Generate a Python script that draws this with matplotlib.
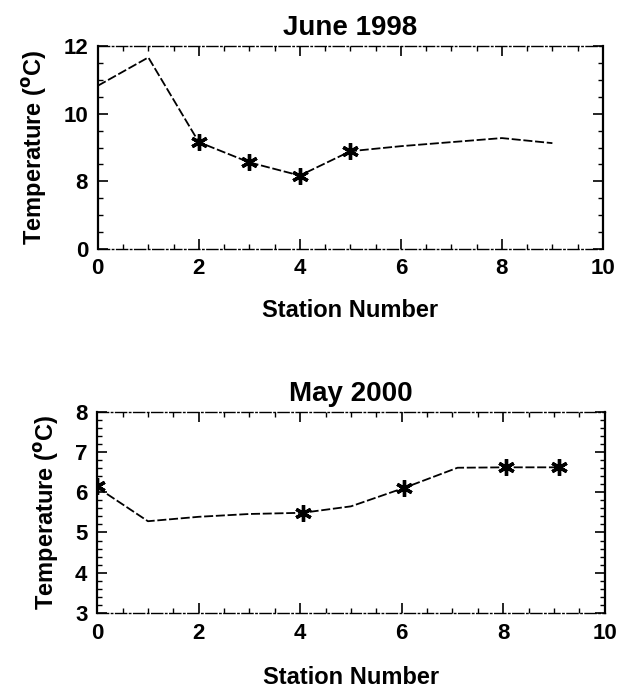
import matplotlib.pyplot as plt
from matplotlib.ticker import MultipleLocator

# June 1998 (y axis scale 6-12, bottom tick printed as "0")
st_jun = [0, 1, 2, 3, 4, 5, 6, 7, 8, 9]
temp_jun = [10.83, 11.67, 9.16, 8.56, 8.17, 8.89, 9.04, 9.16, 9.28, 9.13]
mark_x_jun = [2, 3, 4, 5]
mark_y_jun = [9.16, 8.56, 8.17, 8.89]
yticks_jun = [6, 8, 10, 12]
ylabels_jun = ['0', '8', '10', '12']

# May 2000
st_may = [0, 1, 2, 3, 4.05, 5, 6.05, 7.1, 8.05, 9.1]
temp_may = [6.12, 5.28, 5.39, 5.46, 5.49, 5.65, 6.11, 6.61, 6.62, 6.62]
mark_x_may = [0, 4.05, 6.05, 8.05, 9.1]
mark_y_may = [6.15, 5.49, 6.11, 6.62, 6.62]
yticks_may = [3, 4, 5, 6, 7, 8]

xticks = [0, 2, 4, 6, 8, 10]

plt.rcParams['font.family'] = ['Liberation Sans', 'DejaVu Sans']
plt.rcParams['font.weight'] = 'bold'
plt.rcParams['mathtext.default'] = 'bf'

fig = plt.figure(figsize=(6.19, 6.91), dpi=100)
ax1 = fig.add_axes([0.158, 0.640, 0.816, 0.293])
ax2 = fig.add_axes([0.157, 0.113, 0.820, 0.291])

ls = (0, (5, 1.5))


def style(ax, ymin, ymax, yminor, xpad):
    ax.set_xlim(0, 10)
    ax.set_ylim(ymin, ymax)
    ax.set_xticks(xticks)
    ax.xaxis.set_minor_locator(MultipleLocator(0.5))
    ax.yaxis.set_minor_locator(MultipleLocator(yminor))
    ax.tick_params(which='both', direction='in', top=True, right=True,
                   labelsize=16, pad=7)
    ax.tick_params(which='major', length=7, width=1.2)
    ax.tick_params(which='minor', length=3.5, width=1.0)
    for side in ['left', 'right']:
        ax.spines[side].set_linewidth(1.6)
    for side in ['top', 'bottom']:
        ax.spines[side].set_linewidth(1.0)
        ax.spines[side].set_linestyle((0, (8, 2, 1, 2)))
    ax.set_xlabel('Station Number', fontsize=17, fontweight='bold', labelpad=xpad)
    ax.set_ylabel('Temperature ($^{o}$C)', fontsize=17, fontweight='bold', labelpad=10)


ax1.plot(st_jun, temp_jun, color='black', lw=1.3, linestyle=ls)
ax1.plot(mark_x_jun, mark_y_jun, linestyle='none', marker=(6, 2, 0),
         markersize=12, markeredgewidth=2.4, color='black')
style(ax1, 6, 12, 0.5, 14)
ax1.set_yticks(yticks_jun)
ax1.set_yticklabels(ylabels_jun)
ax1.set_title('June 1998', fontsize=20, fontweight='bold', pad=8)

ax2.plot(st_may, temp_may, color='black', lw=1.3, linestyle=ls)
ax2.plot(mark_x_may, mark_y_may, linestyle='none', marker=(6, 2, 0),
         markersize=12, markeredgewidth=2.4, color='black')
style(ax2, 3, 8, 0.2, 16)
ax2.set_yticks(yticks_may)
ax2.set_title('May 2000', fontsize=20, fontweight='bold', pad=8)

fig.savefig('out.png', dpi=100)
